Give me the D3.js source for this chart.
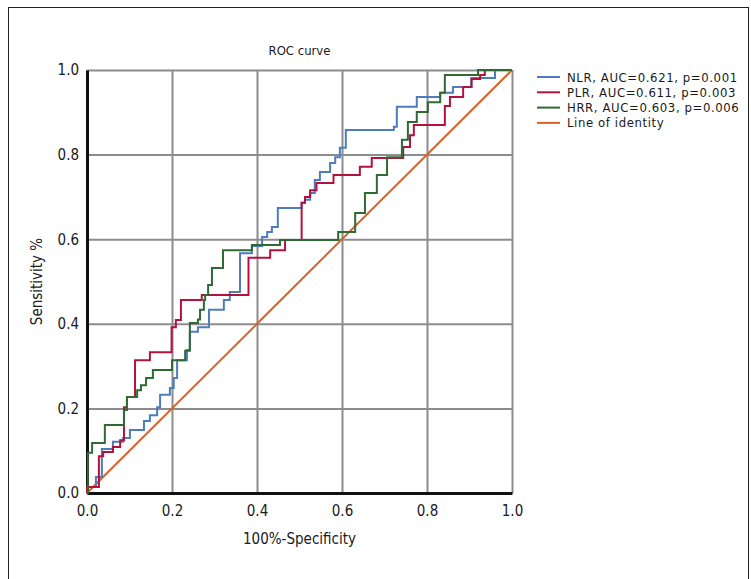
<!DOCTYPE html>
<html>
<head>
<meta charset="utf-8">
<script src="https://cdn.jsdelivr.net/npm/d3@7"></script>
<style>
body { margin: 0; background: #fff; }
svg text { font-family: "Liberation Sans Narrow", "DejaVu Sans Condensed", "Roboto Condensed", sans-serif; fill: #1a1a1a; }
</style>
</head>
<body>
<svg id="chart"></svg>
<script>
// tick values of both axes
let ticks = [0, 0.2, 0.4, 0.6, 0.8, 1.0];

// ROC curves: [fpr, tpr] where the curve rises (step after)
let nlr = [[0,0],[0,0.014],[0.021,0.038],[0.035,0.104],[0.061,0.121],[0.085,0.13],[0.101,0.149],
  [0.134,0.17],[0.148,0.184],[0.165,0.203],[0.172,0.232],[0.195,0.248],[0.204,0.272],[0.212,0.314],
  [0.235,0.338],[0.242,0.381],[0.261,0.392],[0.287,0.433],[0.322,0.456],[0.336,0.475],[0.36,0.567],
  [0.388,0.584],[0.412,0.605],[0.424,0.617],[0.435,0.629],[0.449,0.674],[0.505,0.686],[0.513,0.693],
  [0.525,0.709],[0.536,0.74],[0.548,0.759],[0.572,0.78],[0.584,0.794],[0.595,0.816],[0.609,0.858],
  [0.722,0.866],[0.729,0.913],[0.776,0.936],[0.831,0.946],[0.861,0.96],[0.904,0.981],[0.96,1],[1,1]];

let plr = [[0,0],[0,0.014],[0.028,0.087],[0.038,0.097],[0.061,0.109],[0.078,0.125],[0.087,0.203],
  [0.094,0.227],[0.113,0.314],[0.148,0.333],[0.199,0.392],[0.209,0.409],[0.221,0.456],[0.27,0.468],
  [0.38,0.556],[0.431,0.574],[0.466,0.598],[0.505,0.686],[0.513,0.7],[0.525,0.716],[0.54,0.733],
  [0.58,0.752],[0.642,0.771],[0.67,0.792],[0.744,0.818],[0.76,0.846],[0.769,0.87],[0.842,0.915],
  [0.854,0.936],[0.885,0.96],[0.905,0.979],[0.925,0.988],[0.936,1],[1,1]];

let hrr = [[0,0],[0.002,0.095],[0.012,0.118],[0.042,0.161],[0.087,0.196],[0.094,0.227],[0.118,0.243],
  [0.127,0.255],[0.139,0.272],[0.155,0.291],[0.2,0.314],[0.231,0.336],[0.242,0.402],[0.261,0.41],
  [0.266,0.433],[0.275,0.456],[0.278,0.468],[0.285,0.492],[0.294,0.532],[0.32,0.574],[0.388,0.586],
  [0.454,0.598],[0.591,0.617],[0.631,0.662],[0.654,0.709],[0.682,0.752],[0.706,0.794],[0.741,0.835],
  [0.755,0.877],[0.776,0.901],[0.802,0.924],[0.831,0.946],[0.842,0.988],[0.92,1],[1,1]];

let identity = [[0,0],[1,1]];

let legendNames = ["NLR, AUC=0.621, p=0.001", "PLR, AUC=0.611, p=0.003",
                   "HRR, AUC=0.603, p=0.006", "Line of identity"];
let colors = ["#4d7cbf", "#b3123e", "#2f6a35", "#d9622b"];

let width = 751, height = 579;
let marginLeft = 87, marginTop = 70, plotW = 425, plotH = 423;

let svg = d3.select("#chart").attr("width", width).attr("height", height);

// outer frame
svg.append("rect").attr("x", 8.5).attr("y", 7.5).attr("width", 740).attr("height", 600)
   .attr("fill", "none").attr("stroke", "#222").attr("stroke-width", 1);

let scaleX = d3.scaleLinear().domain([0, 1]).range([0, plotW]);
let scaleY = d3.scaleLinear().domain([0, 1]).range([plotH, 0]);

let g = svg.append("g").attr("transform", `translate(${marginLeft}, ${marginTop})`);

// grid
g.append("g").attr("transform", `translate(0, ${plotH})`)
 .call(d3.axisBottom(scaleX).tickValues(ticks).tickSize(-plotH).tickFormat(""))
 .call(a => a.select(".domain").remove())
 .selectAll("line").attr("stroke", "#8c8c8c").attr("stroke-width", 2);
g.append("g")
 .call(d3.axisLeft(scaleY).tickValues(ticks).tickSize(-plotW).tickFormat(""))
 .call(a => a.select(".domain").remove())
 .selectAll("line").attr("stroke", "#8c8c8c").attr("stroke-width", 2);

// axes
let axX = g.append("g").attr("transform", `translate(0, ${plotH})`)
 .call(d3.axisBottom(scaleX).tickValues(ticks).tickSize(0).tickPadding(12).tickFormat(d3.format(".1f")));
let axY = g.append("g")
 .call(d3.axisLeft(scaleY).tickValues(ticks).tickSize(0).tickPadding(8).tickFormat(d3.format(".1f")));
[axX, axY].forEach(a => {
  a.select(".domain").attr("stroke", "#111").attr("stroke-width", 3);
  a.selectAll("text").style("font-size", "15px");
});

// curves
let lineF = d3.line().x(d => scaleX(d[0])).y(d => scaleY(d[1]));
let stepF = d3.line().x(d => scaleX(d[0])).y(d => scaleY(d[1])).curve(d3.curveStepAfter);

g.append("path").datum(identity).attr("d", lineF)
 .attr("fill", "none").attr("stroke", colors[3]).attr("stroke-width", 2);
[nlr, plr, hrr].forEach((s, i) => {
  g.append("path").datum(s).attr("d", stepF)
   .attr("fill", "none").attr("stroke", colors[i]).attr("stroke-width", 2);
});

// titles
svg.append("text").attr("x", marginLeft + plotW / 2).attr("y", 55).attr("text-anchor", "middle")
   .style("font-size", "13px").text("ROC curve");
svg.append("text").attr("x", marginLeft + plotW / 2).attr("y", 544).attr("text-anchor", "middle")
   .style("font-size", "15px").text("100%-Specificity");
svg.append("text").attr("transform", `translate(42, ${marginTop + plotH / 2}) rotate(-90)`)
   .attr("text-anchor", "middle").style("font-size", "15px").text("Sensitivity %");

// legend
let leg = svg.append("g").attr("transform", "translate(537, 77)");
legendNames.forEach((n, i) => {
  leg.append("line").attr("x1", 0).attr("x2", 23).attr("y1", i * 15.3).attr("y2", i * 15.3)
     .attr("stroke", colors[i]).attr("stroke-width", 2);
  leg.append("text").attr("x", 30).attr("y", i * 15.3 + 4.5)
     .style("font-size", "13px").style("letter-spacing", "0.6px").text(n);
});
</script>
</body>
</html>
